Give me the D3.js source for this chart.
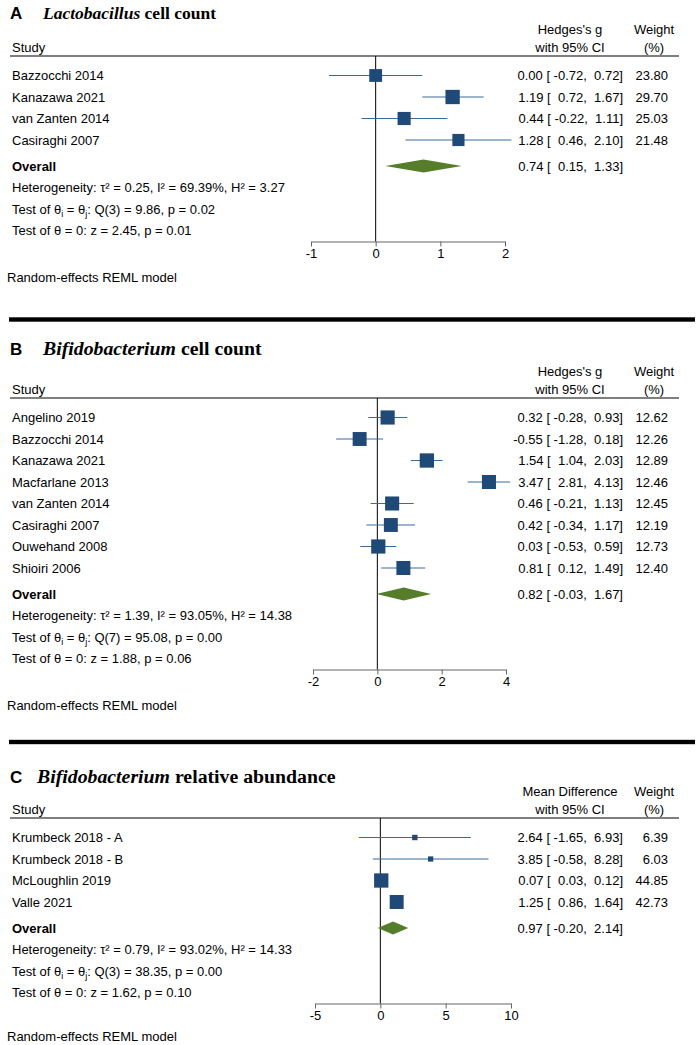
<!DOCTYPE html>
<html>
<head>
<meta charset="utf-8">
<script src="https://cdn.jsdelivr.net/npm/d3@7"></script>
<style>
  body { margin: 0; background: #fff; }
  svg text { font-family: "Liberation Sans", Arial, Helvetica, sans-serif; font-size: 13px; fill: #000; }
</style>
</head>
<body>
<div id="chart"></div>
<script>
// Panel A: Lactobacillus cell count
const studiesA = ["Bazzocchi 2014", "Kanazawa 2021", "van Zanten 2014", "Casiraghi 2007"];
const effectA = [0.00, 1.19, 0.44, 1.28];
const lowerA = [-0.72, 0.72, -0.22, 0.46];
const upperA = [0.72, 1.67, 1.11, 2.10];
const weightA = [23.80, 29.70, 25.03, 21.48];
const overallA = [0.74, 0.15, 1.33];
const hetA = ["0.25", "69.39%", "3.27"];
const testsA = ["Q(3) = 9.86, p = 0.02", "z = 2.45, p = 0.01"];
const ticksA = [-1, 0, 1, 2];

// Panel B: Bifidobacterium cell count
const studiesB = ["Angelino 2019", "Bazzocchi 2014", "Kanazawa 2021", "Macfarlane 2013",
  "van Zanten 2014", "Casiraghi 2007", "Ouwehand 2008", "Shioiri 2006"];
const effectB = [0.32, -0.55, 1.54, 3.47, 0.46, 0.42, 0.03, 0.81];
const lowerB = [-0.28, -1.28, 1.04, 2.81, -0.21, -0.34, -0.53, 0.12];
const upperB = [0.93, 0.18, 2.03, 4.13, 1.13, 1.17, 0.59, 1.49];
const weightB = [12.62, 12.26, 12.89, 12.46, 12.45, 12.19, 12.73, 12.40];
const overallB = [0.82, -0.03, 1.67];
const hetB = ["1.39", "93.05%", "14.38"];
const testsB = ["Q(7) = 95.08, p = 0.00", "z = 1.88, p = 0.06"];
const ticksB = [-2, 0, 2, 4];

// Panel C: Bifidobacterium relative abundance
const studiesC = ["Krumbeck 2018 - A", "Krumbeck 2018 - B", "McLoughlin 2019", "Valle 2021"];
const effectC = [2.64, 3.85, 0.07, 1.25];
const lowerC = [-1.65, -0.58, 0.03, 0.86];
const upperC = [6.93, 8.28, 0.12, 1.64];
const weightC = [6.39, 6.03, 44.85, 42.73];
const overallC = [0.97, -0.20, 2.14];
const hetC = ["0.79", "93.02%", "14.33"];
const testsC = ["Q(3) = 38.35, p = 0.00", "z = 1.62, p = 0.10"];
const ticksC = [-5, 0, 5, 10];

const boxColor = "#1f4a78";
const ciColor = "#3a6a9a";
const diamondColor = "#567d2a";

const svg = d3.select("#chart")
  .append("svg")
  .attr("width", 700)
  .attr("height", 1045);

function fmtCI(es, lo, hi) {
  return es.toFixed(2) + " [" + lo.toFixed(2).padStart(6, " ") + ", " + hi.toFixed(2).padStart(5, " ") + "]";
}

function drawPanel(p, lay) {
  const g = svg.append("g");
  const step = 21.5;
  const n = p.studies.length;
  const rowY = function(i) { return lay.headerY + 19.5 + i * step; };
  const overallY = rowY(n - 1) + 26;
  const statY = function(k) { return overallY + step * (k + 1); };
  const axisY = statY(2) + 11;

  const x = d3.scaleLinear().domain(d3.extent(p.ticks)).range(lay.range);
  const size = d3.scaleSqrt().domain([0, d3.max(p.weight)]).range([0, 14.3]);

  // title
  const title = g.append("text").attr("x", 10).attr("y", lay.titleY);
  title.append("tspan")
    .style("font-weight", "bold").style("font-size", "17px")
    .text(p.letter);
  title.append("tspan")
    .attr("x", lay.titleX)
    .style("font-family", "'Liberation Serif', 'Times New Roman', serif")
    .style("font-weight", "bold").style("font-style", "italic").style("font-size", lay.titleSize + "px")
    .text(p.genus);
  title.append("tspan")
    .style("font-family", "'Liberation Serif', 'Times New Roman', serif")
    .style("font-weight", "bold").style("font-size", lay.titleSize + "px")
    .text(" " + p.rest);

  // column headers
  g.append("text").attr("x", 12).attr("y", lay.headerY - 9).attr("dy", "0.35em").text("Study");
  g.append("text").attr("x", 570).attr("y", lay.headerY - 27).attr("dy", "0.35em")
    .attr("text-anchor", "middle").text(p.measure);
  g.append("text").attr("x", 570).attr("y", lay.headerY - 9).attr("dy", "0.35em")
    .attr("text-anchor", "middle").text("with 95% CI");
  g.append("text").attr("x", 654).attr("y", lay.headerY - 27).attr("dy", "0.35em")
    .attr("text-anchor", "middle").text("Weight");
  g.append("text").attr("x", 654).attr("y", lay.headerY - 9).attr("dy", "0.35em")
    .attr("text-anchor", "middle").text("(%)");

  g.append("line")
    .attr("x1", 10).attr("x2", 679)
    .attr("y1", lay.headerY).attr("y2", lay.headerY)
    .attr("stroke", "#555").attr("stroke-width", 1.5);

  // zero line
  g.append("line")
    .attr("x1", x(0)).attr("x2", x(0))
    .attr("y1", lay.headerY).attr("y2", axisY)
    .attr("stroke", "#000").attr("stroke-width", 1);

  const rows = p.studies.map(function(s, i) {
    return { study: s, es: p.effect[i], lo: p.lower[i], hi: p.upper[i], w: p.weight[i], y: rowY(i) };
  });

  g.selectAll("text.study")
    .data(rows)
    .join("text")
    .attr("class", "study")
    .attr("x", 12).attr("y", function(d) { return d.y; }).attr("dy", "0.35em")
    .text(function(d) { return d.study; });

  g.selectAll("line.ci")
    .data(rows)
    .join("line")
    .attr("class", "ci")
    .attr("x1", function(d) { return x(d.lo); })
    .attr("x2", function(d) { return x(d.hi); })
    .attr("y1", function(d) { return d.y; })
    .attr("y2", function(d) { return d.y; })
    .attr("stroke", ciColor).attr("stroke-width", 1.2);

  g.selectAll("rect.box")
    .data(rows)
    .join("rect")
    .attr("class", "box")
    .attr("x", function(d) { return x(d.es) - size(d.w) / 2; })
    .attr("y", function(d) { return d.y - size(d.w) / 2; })
    .attr("width", function(d) { return size(d.w); })
    .attr("height", function(d) { return size(d.w); })
    .attr("fill", boxColor);

  g.selectAll("text.ci")
    .data(rows)
    .join("text")
    .attr("class", "ci")
    .attr("x", 623).attr("y", function(d) { return d.y; }).attr("dy", "0.35em")
    .attr("text-anchor", "end")
    .style("white-space", "pre")
    .text(function(d) { return fmtCI(d.es, d.lo, d.hi); });

  g.selectAll("text.weight")
    .data(rows)
    .join("text")
    .attr("class", "weight")
    .attr("x", 668).attr("y", function(d) { return d.y; }).attr("dy", "0.35em")
    .attr("text-anchor", "end")
    .text(function(d) { return d.w.toFixed(2); });

  // overall
  const ov = p.overall;
  g.append("text").attr("x", 12).attr("y", overallY).attr("dy", "0.35em")
    .style("font-weight", "bold").text("Overall");
  g.append("polygon")
    .attr("points", [
      [x(ov[1]), overallY], [x(ov[0]), overallY - 6.5],
      [x(ov[2]), overallY], [x(ov[0]), overallY + 6.5]
    ].join(" "))
    .attr("fill", diamondColor);
  g.append("text").attr("x", 623).attr("y", overallY).attr("dy", "0.35em")
    .attr("text-anchor", "end").style("white-space", "pre")
    .text(fmtCI(ov[0], ov[1], ov[2]));

  // heterogeneity and tests
  g.append("text").attr("x", 12).attr("y", statY(0)).attr("dy", "0.35em")
    .text("Heterogeneity: \u03c4\u00b2 = " + p.het[0] + ", I\u00b2 = " + p.het[1] + ", H\u00b2 = " + p.het[2]);

  const t1 = g.append("text").attr("x", 12).attr("y", statY(1)).attr("dy", "0.35em");
  t1.append("tspan").text("Test of \u03b8");
  t1.append("tspan").attr("dy", 3).style("font-size", "9px").text("i");
  t1.append("tspan").attr("dy", -3).text(" = \u03b8");
  t1.append("tspan").attr("dy", 3).style("font-size", "9px").text("j");
  t1.append("tspan").attr("dy", -3).text(": " + p.tests[0]);

  g.append("text").attr("x", 12).attr("y", statY(2)).attr("dy", "0.35em")
    .text("Test of \u03b8 = 0: " + p.tests[1]);

  // axis
  const axis = g.append("g")
    .attr("transform", "translate(0," + axisY + ")")
    .call(d3.axisBottom(x).tickValues(p.ticks).tickSize(5).tickSizeOuter(0).tickPadding(2)
      .tickFormat(d3.format("d")));
  axis.select(".domain").attr("stroke", "#666").attr("stroke-width", 1.2);
  axis.selectAll(".tick line").attr("stroke", "#666");
  axis.selectAll(".tick text")
    .style("font-family", "'Liberation Sans', Arial, sans-serif")
    .style("font-size", "13px").attr("fill", "#000")
    .text(function(d) { return d < 0 ? "-" + Math.abs(d) : d; });

  g.append("text").attr("x", 7).attr("y", axisY + lay.remlGap).attr("dy", "0.35em")
    .text("Random-effects REML model");
}

drawPanel(
  { letter: "A", genus: "Lactobacillus", rest: "cell count", measure: "Hedges's g",
    studies: studiesA, effect: effectA, lower: lowerA, upper: upperA, weight: weightA,
    overall: overallA, het: hetA, tests: testsA, ticks: ticksA },
  { titleY: 19, titleX: 43, titleSize: 17.5, headerY: 56, range: [311, 505], remlGap: 35.5 }
);

drawPanel(
  { letter: "B", genus: "Bifidobacterium", rest: "cell count", measure: "Hedges's g",
    studies: studiesB, effect: effectB, lower: lowerB, upper: upperB, weight: weightB,
    overall: overallB, het: hetB, tests: testsB, ticks: ticksB },
  { titleY: 355, titleX: 43, titleSize: 19.8, headerY: 398, range: [313, 506], remlGap: 36 }
);

drawPanel(
  { letter: "C", genus: "Bifidobacterium", rest: "relative abundance", measure: "Mean Difference",
    studies: studiesC, effect: effectC, lower: lowerC, upper: upperC, weight: weightC,
    overall: overallC, het: hetC, tests: testsC, ticks: ticksC },
  { titleY: 783, titleX: 37, titleSize: 19.8, headerY: 818, range: [315, 511], remlGap: 32.5 }
);

// panel separators
svg.selectAll("rect.sep")
  .data([319.5, 742])
  .join("rect")
  .attr("class", "sep")
  .attr("x", 9).attr("width", 686)
  .attr("y", function(d) { return d - 2.2; })
  .attr("height", 4.4)
  .attr("fill", "#000");
</script>
</body>
</html>
